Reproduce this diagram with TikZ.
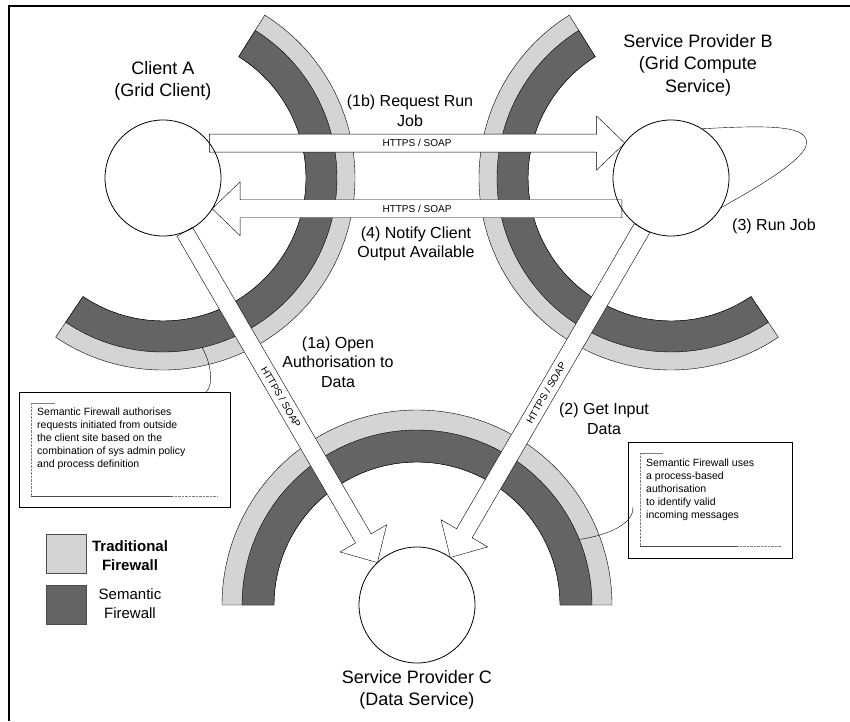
\documentclass[tikz,border=0pt]{standalone}
\usepackage{fontspec}
\setmainfont{Liberation Sans}
\usetikzlibrary{calc}

\pgfdeclarelayer{background}
\pgfsetlayers{background,main}

\definecolor{lightfw}{HTML}{D4D4D4}
\definecolor{darkfw}{HTML}{646464}

% annular firewall band: style, centre, from, to, outer radius
\newcommand{\firewallarc}[5]{%
  \filldraw[#1] ($(#2)+(#3:#5pt)$) arc[start angle=#3,end angle=#4,radius=#5pt]
    -- ($(#2)+(#4:143pt)$) arc[start angle=#4,end angle=#3,radius=143pt] -- cycle;
}
% block arrow: start, tip, text
\newcommand{\blockarrow}[3]{%
  \coordinate (hb) at ($(#2)!28pt!(#1)$);
  \filldraw[fwarrow] ($(#1)!9pt!90:(#2)$) -- ($(hb)!9pt!90:(#2)$) -- ($(hb)!27pt!90:(#2)$)
    -- (#2) -- ($(hb)!27pt!-90:(#2)$) -- ($(hb)!9pt!-90:(#2)$) -- ($(#1)!9pt!-90:(#2)$) -- cycle;
  \path (#1) -- (#2) node[midway,sloped,proto] {#3};
}

\begin{document}
\begin{tikzpicture}[x=1pt,y=1pt,line width=0.8pt,
  tradband/.style={fill=lightfw,draw=black},
  semband/.style={fill=darkfw,draw=black},
  fwarrow/.style={fill=white,draw=black},
  host/.style={circle,draw,minimum size=116pt,inner sep=0pt,outer sep=0pt},
  title/.style={align=center,font=\fontsize{18}{22.5}\selectfont},
  msglabel/.style={align=center,font=\fontsize{16}{19.5}\selectfont},
  proto/.style={inner sep=0pt,font=\fontsize{10}{12}\selectfont},
  notebox/.style={draw,line width=0.9pt,inner sep=0pt,anchor=north west},
  notetext/.style={align=left,anchor=north west,inner sep=0pt,font=\fontsize{10.5}{13}\selectfont},
  legendkey/.style={draw=black!70,minimum width=40pt,minimum height=39pt,inner sep=0pt},
  keytext/.style={align=center,font=\fontsize{15}{19}\selectfont}]

\useasboundingbox (0,0) rectangle (850,721);
\draw[line width=2pt] (9,0) -- (9,714.5) -- (850,714.5);

% sites
\node[host] (clientA) at (163,543) {};
\node[host] (provB) at (671,543) {};
\node[host] (provC) at (417,116) {};

\begin{pgfonlayer}{background}
% firewalls
\firewallarc{tradband}{clientA.center}{-124}{58}{192}
\firewallarc{semband}{clientA.center}{-124}{58}{174}
\firewallarc{tradband}{provB.center}{122}{304}{192}
\firewallarc{semband}{provB.center}{122}{304}{174}
\firewallarc{tradband}{provC.center}{0}{180}{195}
\firewallarc{semband}{provC.center}{0}{180}{175}
% messages
\blockarrow{clientA.37}{provB.143}{HTTPS / SOAP}
\blockarrow{provB.212}{clientA.-32}{HTTPS / SOAP}
\blockarrow{clientA.-68}{provC.133}{HTTPS / SOAP}
\blockarrow{provB.-120}{provC.55}{HTTPS / SOAP}
\end{pgfonlayer}

% run job loop
\draw (provB.58) .. controls (770,596) and (812,596) .. (806,575)
  .. controls (801,560) and (760,535) .. (provB.-31);

\node[title] (lblA) at (163,640) {Client A\\(Grid Client)};
\node[title] (lblB) at (698,656) {Service Provider B\\(Grid Compute\\Service)};
\node[title] (lblC) at (417,31) {Service Provider C\\(Data Service)};

\node[msglabel] (step1b) at (410,610) {(1b) Request Run\\Job};
\node[msglabel] (step4) at (416,477) {(4) Notify Client\\Output Available};
\node[msglabel] (step3) at (774,495) {(3) Run Job};
\node[msglabel] (step1a) at (338,359) {(1a) Open\\Authorisation to\\Data};
\node[msglabel] (step2) at (604,302) {(2) Get Input\\Data};

% notes
\node[notebox,minimum width=211pt,minimum height=115pt] (noteA) at (19,329) {};
\draw[gray,densely dotted] (31,318) -- (31,225);
\draw[gray] (31,318) -- (55,318);
\draw[black!70] (31,225) -- (172,225);
\draw[gray,densely dotted] (172,225) -- (218,225);
\node[notetext] (noteAtxt) at (37,313) {Semantic Firewall authorises\\requests initiated from outside\\the client site based on the\\combination of sys admin policy\\and process definition};
\coordinate (pinA) at ($(clientA.center)+(-77:174pt)$);
\coordinate (tagA) at (206,329);
\draw (pinA) .. controls (211,358) and (214,336) .. (tagA);

\node[notebox,minimum width=164pt,minimum height=116pt] (noteC) at (628,279) {};
\draw[gray,densely dotted] (640,268) -- (640,175);
\draw[gray] (640,268) -- (663,268);
\draw[black!70] (640,175) -- (737,175);
\draw[gray,densely dotted] (737,175) -- (781,175);
\node[notetext] (noteCtxt) at (646,262) {Semantic Firewall uses\\a process-based\\authorisation\\to identify valid\\incoming messages};
\coordinate (pinC) at ($(provC.center)+(22:175pt)$);
\coordinate (tagC) at (633,214);
\draw (tagC) .. controls (634,200) and (615,187) .. (pinC);

% legend
\node[legendkey,fill=lightfw] (keytrad) at (66,167.5) {};
\node[legendkey,fill=darkfw] (keysem) at (66,116.5) {};
\node[keytext,font=\fontsize{15}{19}\selectfont\bfseries] (lbltrad) at (130,165.5) {Traditional\\Firewall};
\node[keytext] (lblsem) at (130,117.5) {Semantic\\Firewall};

\end{tikzpicture}
\end{document}
